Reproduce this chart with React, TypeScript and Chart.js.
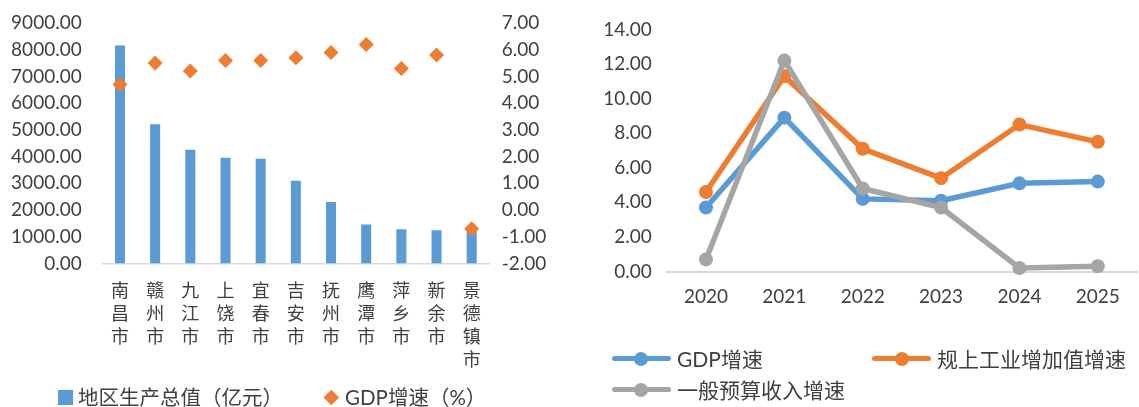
import React, { useEffect, useRef } from 'react';
import { Chart, registerables } from 'chart.js';

Chart.register(...registerables);

// ---- data (left chart) ----
const cities = ['南昌市', '赣州市', '九江市', '上饶市', '宜春市', '吉安市', '抚州市', '鹰潭市', '萍乡市', '新余市', '景德镇市'];
const regionalGdp = [8160, 5210, 4260, 3960, 3920, 3100, 2300, 1460, 1280, 1240, 1270];
const regionalGdpGrowth = [4.7, 5.5, 5.2, 5.6, 5.6, 5.7, 5.9, 6.2, 5.3, 5.8, -0.7];
const leftLegendLabels = ['地区生产总值（亿元）', 'GDP增速（%）'];

// ---- data (right chart) ----
const years = ['2020', '2021', '2022', '2023', '2024', '2025'];
const gdpGrowth = [3.7, 8.9, 4.2, 4.1, 5.1, 5.2];
const industryGrowth = [4.6, 11.3, 7.1, 5.4, 8.5, 7.5];
const budgetGrowth = [0.7, 12.2, 4.8, 3.7, 0.2, 0.3];
const rightLegendLabels = ['GDP增速', '规上工业增加值增速', '一般预算收入增速'];

const BLUE = '#5B9BD5';
const ORANGE = '#ED7D31';
const GRAY = '#A5A5A5';
const TEXT = '#404040';
const AXIS = '#d9d9d9';
const FONT = "Lato, 'Noto Sans CJK SC', sans-serif";

const LW = 560;
const RW = 549;
const H = 407;

const fixWidth = (w: number) => (s: any) => {
  s.width = w;
  s.paddingTop = 0;
  s.paddingBottom = 0;
};

export default function App() {
  const leftRef = useRef<HTMLCanvasElement>(null);
  const rightRef = useRef<HTMLCanvasElement>(null);

  useEffect(() => {
    Chart.defaults.font.family = FONT;
    Chart.defaults.color = TEXT;

    const left = new Chart(leftRef.current as HTMLCanvasElement, {
      type: 'bar',
      data: {
        labels: cities.map((c) => c.split('')),
        datasets: [
          {
            type: 'line',
            label: leftLegendLabels[1],
            data: regionalGdpGrowth,
            yAxisID: 'y1',
            showLine: false,
            pointStyle: 'rectRot',
            pointRadius: 7.5,
            pointBackgroundColor: ORANGE,
            pointBorderColor: ORANGE,
            pointBorderWidth: 0,
            order: 0,
            clip: false,
          } as any,
          {
            type: 'bar',
            label: leftLegendLabels[0],
            data: regionalGdp,
            yAxisID: 'y',
            backgroundColor: BLUE,
            barPercentage: 0.285,
            categoryPercentage: 1,
            order: 1,
          },
        ],
      },
      options: {
        responsive: false,
        animation: false,
        devicePixelRatio: 1,
        layout: { autoPadding: false, padding: { top: 23, left: 0, right: 0, bottom: 0 } },
        plugins: { legend: { display: false }, tooltip: { enabled: false } },
        scales: {
          x: {
            type: 'category',
            offset: true,
            grid: { display: false, drawTicks: false },
            border: { display: true, color: AXIS, width: 1.5 },
            ticks: {
              autoSkip: false,
              maxRotation: 0,
              minRotation: 0,
              padding: 16,
              color: TEXT,
              font: { size: 18, lineHeight: 1.28 },
            },
            afterFit: (s: any) => {
              s.height = H - 263.5;
            },
          },
          y: {
            position: 'left',
            min: 0,
            max: 9000,
            grid: { display: false, drawTicks: false },
            border: { display: false },
            ticks: {
              stepSize: 1000,
              autoSkip: false,
              padding: 20.7,
              color: TEXT,
              font: { size: 19 },
              callback: (v: any) => Number(v).toFixed(2),
            },
            afterFit: fixWidth(102.4),
          },
          y1: {
            position: 'right',
            min: -2,
            max: 7,
            grid: { display: false, drawTicks: false },
            border: { display: false },
            ticks: {
              stepSize: 1,
              autoSkip: false,
              padding: 12.4,
              color: TEXT,
              font: { size: 19 },
              callback: (v: any) => Number(v).toFixed(2),
            },
            afterFit: fixWidth(LW - 489.3),
          },
        },
      },
    });

    const lineDs = (label: string, data: number[], color: string, order: number) => ({
      label,
      data,
      borderColor: color,
      backgroundColor: color,
      borderWidth: 5.5,
      pointRadius: 7,
      pointBackgroundColor: color,
      pointBorderColor: color,
      pointBorderWidth: 0,
      tension: 0,
      order,
      clip: false,
    });

    const right = new Chart(rightRef.current as HTMLCanvasElement, {
      type: 'line',
      data: {
        labels: years,
        datasets: [
          lineDs(rightLegendLabels[0], gdpGrowth, BLUE, 2),
          lineDs(rightLegendLabels[1], industryGrowth, ORANGE, 1),
          lineDs(rightLegendLabels[2], budgetGrowth, GRAY, 0),
        ] as any,
      },
      options: {
        responsive: false,
        animation: false,
        devicePixelRatio: 1,
        layout: { autoPadding: false, padding: { top: 29.5, left: 0, right: 2, bottom: 0 } },
        plugins: { legend: { display: false }, tooltip: { enabled: false } },
        scales: {
          x: {
            type: 'category',
            offset: true,
            grid: { display: false, drawTicks: false },
            border: { display: true, color: AXIS, width: 2 },
            ticks: {
              autoSkip: false,
              maxRotation: 0,
              minRotation: 0,
              padding: 13.8,
              color: TEXT,
              font: { size: 19, lineHeight: 1.2 },
            },
            afterFit: (s: any) => {
              s.height = H - 271.5;
              s.paddingLeft = 0;
              s.paddingRight = 0;
            },
          },
          y: {
            position: 'left',
            min: 0,
            max: 14,
            grid: { display: false, drawTicks: false },
            border: { display: false },
            ticks: {
              stepSize: 2,
              autoSkip: false,
              padding: 15.1,
              color: TEXT,
              font: { size: 19 },
              callback: (v: any) => Number(v).toFixed(2),
            },
            afterFit: fixWidth(76.8),
          },
        },
      },
    });

    return () => {
      left.destroy();
      right.destroy();
    };
  }, []);

  const textStyle = (x: number, cy: number, size: number): React.CSSProperties => ({
    position: 'absolute',
    left: x,
    top: cy - 12,
    height: 24,
    lineHeight: '24px',
    fontSize: size,
    fontFamily: FONT,
    color: TEXT,
    whiteSpace: 'nowrap',
  });

  const lineMarker = (x: number, cy: number, color: string) => (
    <>
      <div style={{ position: 'absolute', left: x, top: cy - 2.5, width: 59, height: 5, background: color, borderRadius: 2.5 }} />
      <div style={{ position: 'absolute', left: x + 29.5 - 7, top: cy - 7, width: 14, height: 14, background: color, borderRadius: 7 }} />
    </>
  );

  const LCY = 397;
  const R1 = 358.5;
  const R2 = 389.5;

  return (
    <div style={{ position: 'absolute', left: 0, top: 0, width: 1139, height: H, background: '#ffffff', overflow: 'hidden' }}>
      <canvas ref={leftRef} width={LW} height={H} style={{ position: 'absolute', left: 0, top: 0, width: LW, height: H }} />
      <canvas ref={rightRef} width={RW} height={H} style={{ position: 'absolute', left: 590, top: 0, width: RW, height: H }} />

      {/* left legend */}
      <div style={{ position: 'absolute', left: 57.5, top: LCY - 7.5, width: 15, height: 15, background: BLUE }} />
      <div style={textStyle(78, LCY, 20.5)}>{leftLegendLabels[0]}</div>
      <div style={{ position: 'absolute', left: 331 - 5.3, top: LCY - 5.3, width: 10.6, height: 10.6, background: ORANGE, transform: 'rotate(45deg)' }} />
      <div style={textStyle(345, LCY, 20.5)}>{leftLegendLabels[1]}</div>

      {/* right legend */}
      {lineMarker(611.7, R1, BLUE)}
      <div style={textStyle(677, R1, 21)}>{rightLegendLabels[0]}</div>
      {lineMarker(872, R1, ORANGE)}
      <div style={textStyle(937, R1, 21)}>{rightLegendLabels[1]}</div>
      {lineMarker(611.7, R2, GRAY)}
      <div style={textStyle(677, R2, 21)}>{rightLegendLabels[2]}</div>
    </div>
  );
}
